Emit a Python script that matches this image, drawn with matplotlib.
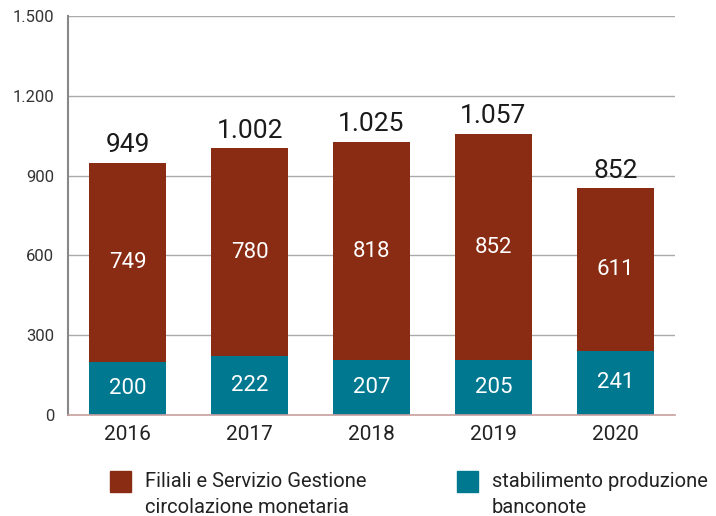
import numpy as np
import matplotlib.pyplot as plt
from matplotlib.patches import Rectangle

anni = ['2016', '2017', '2018', '2019', '2020']
stabilimento = [200, 222, 207, 205, 241]
filiali = [749, 780, 818, 852, 611]
totali = [949, 1002, 1025, 1057, 852]
etichette_legenda = ['Filiali e Servizio Gestione\ncircolazione monetaria',
                     'stabilimento produzione\nbanconote']

col_filiali = '#8a2c14'
col_stab = '#00788f'

plt.rcParams['font.family'] = ['Roboto', 'DejaVu Sans']

def fmt(v):
    return '{:,}'.format(int(v)).replace(',', '.')

W, H = 716, 516
fig = plt.figure(figsize=(W / 100, H / 100), dpi=100)
ax = fig.add_axes([68 / W, 1 - 415 / H, 607 / W, 399 / H])

x = np.arange(len(anni))
w = 0.63
ax.bar(x, stabilimento, w, color=col_stab, zorder=3)
ax.bar(x, filiali, w, bottom=stabilimento, color=col_filiali, zorder=3)

for i in range(len(anni)):
    ax.text(x[i], stabilimento[i] / 2, fmt(stabilimento[i]), ha='center', va='center',
            color='white', fontsize=16, zorder=4)
    ax.text(x[i], stabilimento[i] + filiali[i] / 2, fmt(filiali[i]), ha='center', va='center',
            color='white', fontsize=16, zorder=4)
    ax.text(x[i], totali[i] + 22, fmt(totali[i]), ha='center', va='bottom',
            color='#1a1a1a', fontsize=19, zorder=4)

ax.set_xlim(-0.49, 4.49)
ax.set_ylim(0, 1500)
yt = np.arange(0, 1501, 300)
ax.set_yticks(yt)
ax.set_yticklabels([fmt(v) for v in yt], fontsize=12, color='#333333')
ax.set_xticks(x)
ax.set_xticklabels(anni, fontsize=15, color='#222222')
ax.tick_params(axis='y', length=0, pad=10)
ax.tick_params(axis='x', length=0, pad=7)
ax.yaxis.grid(True, color='#aaaaaa', linewidth=1, zorder=0)
for s in ['top', 'right']:
    ax.spines[s].set_visible(False)
ax.spines['left'].set_color('#888888')
ax.spines['left'].set_linewidth(1.5)
ax.spines['bottom'].set_color('#c9a0a0')
ax.spines['bottom'].set_linewidth(1.2)
ax.spines['bottom'].set_zorder(5)

# legenda disegnata a mano (quadrato allineato alla prima riga)
leg_x = [110, 457]
for k, (col, lab) in enumerate(zip([col_filiali, col_stab], etichette_legenda)):
    fig.add_artist(Rectangle((leg_x[k] / W, 1 - 492 / H), 21 / W, 21 / H,
                             transform=fig.transFigure, color=col))
    fig.text((leg_x[k] + 35) / W, 1 - 472 / H, lab, ha='left', va='top',
             fontsize=14.5, color='#222222', linespacing=1.45)

fig.savefig('out.png', dpi=100)
